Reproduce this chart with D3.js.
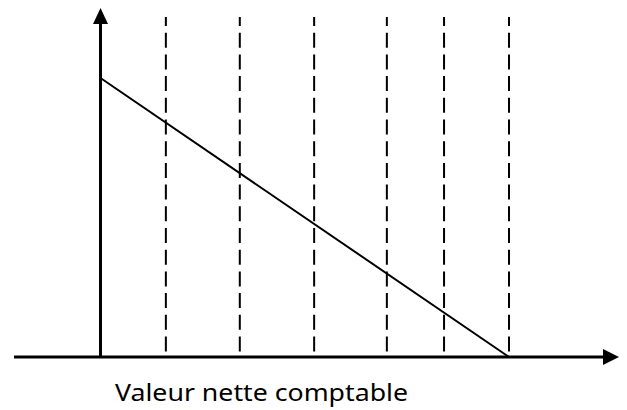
<!DOCTYPE html>
<html>
<head>
<meta charset="utf-8">
<script src="https://cdn.jsdelivr.net/npm/d3@7"></script>
<style>
  html, body { margin: 0; padding: 0; background: #fff; }
  svg { display: block; }
</style>
</head>
<body>
<script>
// Data (time positions in % of useful life, book value in % of cost)
const periodMarks = [16.0, 34.1, 52.3, 70.1, 84.1, 100];
const lineTimes = [0, 100];
const lineValues = [100, 0];
const xLabel = "Valeur nette comptable";

const W = 627, H = 410;
const svg = d3.select("body").append("svg").attr("width", W).attr("height", H);

const x = d3.scaleLinear().domain([0, 100]).range([100.5, 509]);
const y = d3.scaleLinear().domain([0, 100]).range([357, 78]);

// layout extents
const axisLeft = 14, axisRightTip = 619, axisTopTip = 8, dashTop = 17;

// dashed verticals
svg.append("g").selectAll("line").data(periodMarks).join("line")
  .attr("x1", d => x(d)).attr("x2", d => x(d))
  .attr("y1", dashTop).attr("y2", y(0))
  .attr("stroke", "#000").attr("stroke-width", 2)
  .attr("stroke-dasharray", "9,6.7,15,6.7,15,6.7,15,6.7,15,6.7,15,6.7,15,6.7,15,6.7,15,6.7,15,6.7,15,6.7,15,6.7,15,6.7,15,6.7,15,6.7,15,6.7");

// value line
const pts = lineTimes.map((t, i) => [t, lineValues[i]]);
svg.append("path")
  .attr("d", d3.line().x(d => x(d[0])).y(d => y(d[1]))(pts))
  .attr("fill", "none").attr("stroke", "#000").attr("stroke-width", 2);

// x axis
svg.append("line")
  .attr("x1", axisLeft).attr("x2", axisRightTip - 14)
  .attr("y1", y(0)).attr("y2", y(0))
  .attr("stroke", "#000").attr("stroke-width", 3);
svg.append("path")
  .attr("d", `M${axisRightTip},${y(0)} L${axisRightTip - 16},${y(0) - 8} L${axisRightTip - 16},${y(0) + 8} Z`)
  .attr("fill", "#000");

// y axis
svg.append("line")
  .attr("x1", x(0)).attr("x2", x(0))
  .attr("y1", y(0)).attr("y2", axisTopTip + 14)
  .attr("stroke", "#000").attr("stroke-width", 3);
svg.append("path")
  .attr("d", `M${x(0)},${axisTopTip} L${x(0) - 7.5},${axisTopTip + 16} L${x(0) + 7.5},${axisTopTip + 16} Z`)
  .attr("fill", "#000");

// label
svg.append("text")
  .attr("x", 115).attr("y", 401)
  .attr("font-family", "'Noto Sans', 'DejaVu Sans', sans-serif")
  .attr("font-size", 23)
  .attr("textLength", 293)
  .attr("lengthAdjust", "spacingAndGlyphs")
  .attr("fill", "#000")
  .text(xLabel);
</script>
</body>
</html>
